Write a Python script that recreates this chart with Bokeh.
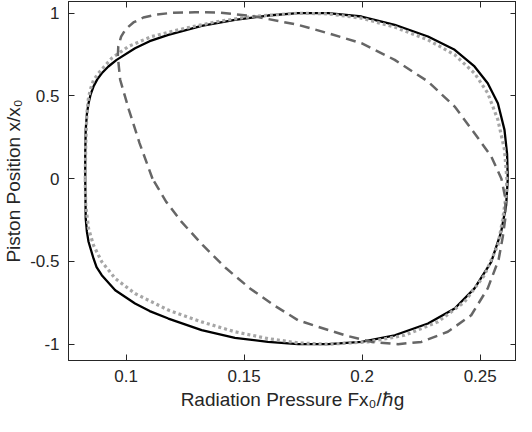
from bokeh.plotting import figure
from bokeh.models import Range1d, LinearAxis, FixedTicker, CustomJSTickFormatter
from bokeh.embed import file_html
from bokeh.resources import INLINE

# ---------------- data ----------------
solid_x = [0.0827, 0.0827, 0.0829, 0.0834, 0.0841, 0.0850, 0.0862, 0.0878, 0.0897, 0.0925,
           0.0960, 0.1038, 0.1100, 0.1179, 0.1320, 0.1461, 0.1601, 0.1728, 0.1856, 0.1997,
           0.2138, 0.2279, 0.2392, 0.2476, 0.2532, 0.2575, 0.2603, 0.2614, 0.2617, 0.2610,
           0.2589, 0.2547, 0.2476, 0.2392, 0.2279, 0.2138, 0.1997, 0.1856, 0.1728, 0.1601,
           0.1461, 0.1320, 0.1179, 0.1100, 0.1038, 0.0954, 0.0897, 0.0875, 0.0862, 0.0841,
           0.0834, 0.0829, 0.0827]
solid_y = [0.0, 0.15, 0.295, 0.39, 0.456, 0.51, 0.557, 0.60, 0.637, 0.678,
           0.718, 0.788, 0.831, 0.869, 0.924, 0.960, 0.986, 1.0, 1.0, 0.980,
           0.930, 0.859, 0.779, 0.678, 0.577, 0.456, 0.295, 0.15, 0.0, -0.160,
           -0.321, -0.502, -0.663, -0.784, -0.875, -0.946, -0.986, -1.0, -1.0, -0.986,
           -0.962, -0.915, -0.845, -0.800, -0.754, -0.674, -0.583, -0.535, -0.482, -0.381,
           -0.320, -0.240, 0.0]

dotted_x = [0.0827, 0.0829, 0.0834, 0.0840, 0.0848, 0.0862, 0.0883, 0.0939, 0.1010, 0.1108,
            0.1249, 0.1390, 0.1531, 0.1728, 0.1856, 0.1997, 0.2138, 0.2279, 0.2392, 0.2476,
            0.2532, 0.2575, 0.2603, 0.2613, 0.2610, 0.2595, 0.2575, 0.2518, 0.2434, 0.2321,
            0.2180, 0.2025, 0.1856, 0.1728, 0.1601, 0.1461, 0.1320, 0.1179, 0.1038, 0.0954,
            0.0897, 0.0862, 0.0841, 0.0829, 0.0827]
dotted_y = [0.0, 0.2, 0.396, 0.48, 0.537, 0.595, 0.637, 0.728, 0.799, 0.859,
            0.909, 0.950, 0.980, 1.0, 0.996, 0.970, 0.916, 0.839, 0.749, 0.637,
            0.517, 0.356, 0.175, 0.0, -0.1, -0.25, -0.402, -0.583, -0.744, -0.865,
            -0.946, -0.986, -1.0, -0.992, -0.966, -0.925, -0.865, -0.794, -0.694, -0.603,
            -0.502, -0.402, -0.301, -0.160, 0.0]

dashed_x = [0.1112, 0.1057, 0.1012, 0.0975, 0.0965, 0.0967, 0.0979, 0.0998, 0.1031, 0.1073,
            0.1129, 0.1193, 0.1292, 0.1390, 0.1531, 0.1728, 0.1856, 0.1997, 0.2138, 0.2279,
            0.2392, 0.2476, 0.2547, 0.2590, 0.2607, 0.2606, 0.2596, 0.2578, 0.2532, 0.2462,
            0.2363, 0.2251, 0.2152, 0.2040, 0.1927, 0.1814, 0.1728, 0.1626, 0.1525, 0.1425,
            0.1325, 0.1235, 0.1170, 0.1112]
dashed_y = [0.0, 0.215, 0.416, 0.598, 0.738, 0.799, 0.859, 0.903, 0.944, 0.974,
            0.992, 1.002, 1.006, 1.004, 0.984, 0.930, 0.879, 0.819, 0.718, 0.587,
            0.436, 0.275, 0.134, 0.0, -0.120, -0.245, -0.350, -0.490, -0.663, -0.825,
            -0.925, -0.986, -1.0, -0.986, -0.946, -0.895, -0.855, -0.764, -0.663, -0.543,
            -0.402, -0.261, -0.140, 0.0]

x_ticks = [0.1, 0.15, 0.2, 0.25]
x_tick_labels = ["0.1", "0.15", "0.2", "0.25"]
y_ticks = [-1, -0.5, 0, 0.5, 1]
y_tick_labels = ["-1", "-0.5", "0", "0.5", "1"]

x_label = "Radiation Pressure Fx\u2080/\u210fg"
y_label = "Piston Position x/x\u2080"

# ---------------- figure ----------------
AX = "#262626"
FONT = "Liberation Sans"

p = figure(width=516, height=416, output_backend="svg", toolbar_location=None,
           x_range=Range1d(0.07561, 0.26539), y_range=Range1d(-1.0985, 1.0707),
           min_border_left=67, min_border_right=0, min_border_top=1, min_border_bottom=56,
           x_axis_label=x_label, y_axis_label=y_label)
p.grid.visible = False
p.outline_line_color = AX
p.outline_line_width = 1
p.background_fill_color = "white"
p.border_fill_color = "white"

fmt_code = "return String(tick)"


def style(ax, ticks, labels, show, standoff):
    ax.ticker = FixedTicker(ticks=ticks)
    ax.formatter = CustomJSTickFormatter(code=fmt_code)
    ax.major_label_overrides = {t: l for t, l in zip(ticks, labels)}
    ax.major_tick_in = 6
    ax.major_tick_out = 0
    ax.minor_tick_line_color = None
    ax.axis_line_color = AX
    ax.major_tick_line_color = AX
    ax.major_label_text_font = FONT
    if show:
        ax.major_label_text_color = AX
        ax.major_label_text_font_size = "17px"
        ax.major_label_standoff = standoff
        ax.axis_label_text_font = FONT
        ax.axis_label_text_font_size = "19px"
        ax.axis_label_text_font_style = "normal"
        ax.axis_label_text_color = AX
    else:
        # mirror axis: ticks only, its labels are not drawn
        ax.major_label_text_color = None
        ax.major_label_text_font_size = "1px"
        ax.major_label_standoff = 0
        ax.axis_label = None


style(p.xaxis[0], x_ticks, x_tick_labels, True, 9)
p.xaxis[0].axis_label_standoff = 4
style(p.yaxis[0], y_ticks, y_tick_labels, True, 9)
p.yaxis[0].axis_label_standoff = 3

top = LinearAxis()
style(top, x_ticks, x_tick_labels, False, 0)
p.add_layout(top, "above")
right = LinearAxis()
style(right, y_ticks, y_tick_labels, False, 0)
p.add_layout(right, "right")

# ---------------- curves ----------------
p.line(solid_x, solid_y, line_color="black", line_width=2.3, line_join="round")
p.line(dotted_x, dotted_y, line_color="#a6a6a6", line_width=3.2, line_dash="3 3")
p.line(dashed_x, dashed_y, line_color="#666666", line_width=2.5, line_dash="10 6",
       line_join="round")

open("out.html", "w").write(file_html(p, INLINE))
